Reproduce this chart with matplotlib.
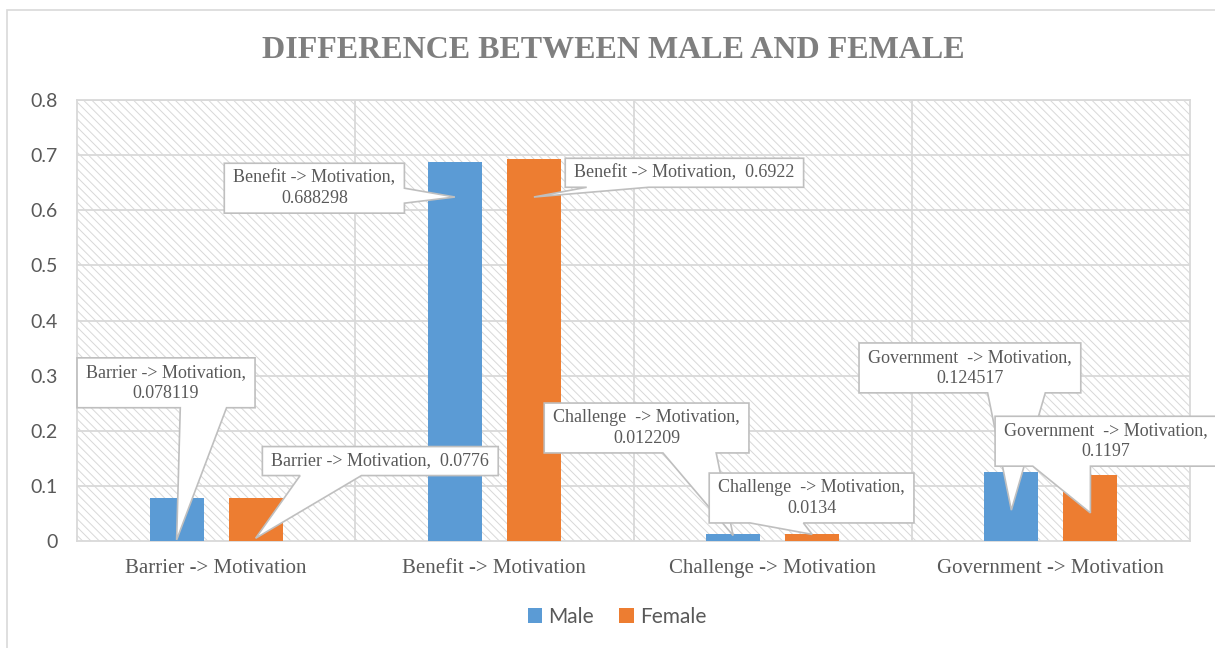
import matplotlib
matplotlib.use("Agg")
import matplotlib.pyplot as plt
from matplotlib.patches import Rectangle, Polygon
import numpy as np

# data
categories = ['Barrier -> Motivation', 'Benefit -> Motivation',
              'Challenge -> Motivation', 'Government -> Motivation']
male = [0.078119, 0.688298, 0.012209, 0.124517]
female = [0.0776, 0.6922, 0.0134, 0.1197]
male_labels = ['Barrier -> Motivation,\n0.078119', 'Benefit -> Motivation,\n0.688298',
               'Challenge  -> Motivation,\n0.012209', 'Government  -> Motivation,\n0.124517']
female_labels = ['Barrier -> Motivation,  0.0776', 'Benefit -> Motivation,  0.6922',
                 'Challenge  -> Motivation,\n0.0134', 'Government  -> Motivation,\n0.1197']

# callout layout: box centre (data coords), pointer tip height,
# edge the pointer leaves from and where along that edge its base sits
male_box = [(-0.180, 0.287), (0.353, 0.640), (1.547, 0.205), (2.709, 0.314)]
female_box = [(0.590, 0.145), (1.683, 0.668), (2.140, 0.078), (3.198, 0.181)]
male_tip = [0.002, 0.624, 0.010, 0.056]
female_tip = [0.005, 0.624, 0.012, 0.051]
male_edge = ['bottom', 'right', 'bottom', 'bottom']
female_edge = ['bottom', 'bottom', 'bottom', 'bottom']
male_base = [0.71, 0.65, 0.71, 0.71]
female_base = [0.29, 0.22, 0.33, 0.30]

blue = '#5B9BD5'
orange = '#ED7D31'
grid_c = '#d9d9d9'
text_c = '#595959'
box_c = '#bfbfbf'
serif = ['Liberation Serif', 'DejaVu Serif']
sans = ['Lato', 'DejaVu Sans']

plt.rcParams['hatch.linewidth'] = 0.7

fig = plt.figure(figsize=(12.15, 6.48), dpi=100)
ax = fig.add_axes([77 / 1215, 1 - 541 / 648, (1190 - 77) / 1215, (541 - 100) / 648])

# outer chart border
fig.patches.append(Rectangle((7 / 1215, -0.01), 1.0, 1 - 10 / 648 + 0.01,
                             transform=fig.transFigure, fill=False,
                             edgecolor=grid_c, lw=1.2, zorder=0))

# hatched plot area
ax.add_patch(Rectangle((0, 0), 1, 1, transform=ax.transAxes, fill=False,
                       hatch='\\' * 4, edgecolor='#d8d8d8', lw=0, zorder=0))

x = np.arange(len(categories))
bw = 0.194
off = 0.142
ax.bar(x - off, male, bw, color=blue, label='Male', zorder=3)
ax.bar(x + off, female, bw, color=orange, label='Female', zorder=3)

ax.set_xlim(-0.5, 3.5)
ax.set_ylim(0, 0.8)
ax.set_yticks(np.arange(0, 0.81, 0.1))
ax.set_yticklabels(['0', '0.1', '0.2', '0.3', '0.4', '0.5', '0.6', '0.7', '0.8'],
                   family=sans, fontsize=14, color=text_c)
ax.set_xticks(x)
ax.set_xticklabels(categories, family=serif, fontsize=15, color=text_c)
ax.tick_params(axis='y', length=0, pad=14)
ax.tick_params(axis='x', length=0, pad=13)

for y in np.arange(0.1, 0.81, 0.1):
    ax.axhline(y, color=grid_c, lw=1.3, zorder=1)
for xv in [0.5, 1.5, 2.5]:
    ax.axvline(xv, color=grid_c, lw=1.3, zorder=1)
for s in ax.spines.values():
    s.set_color(grid_c)
    s.set_linewidth(1.3)

fig.text(613 / 1215, 1 - 50 / 648, 'DIFFERENCE BETWEEN MALE AND FEMALE',
         ha='center', va='center', family=serif, fontsize=23, fontweight='bold',
         color='#7f7f7f')

leg = fig.legend(loc='center', bbox_to_anchor=(617 / 1215, 1 - 617 / 648), ncol=2,
                 frameon=False, prop={'family': sans, 'size': 15},
                 handlelength=0.7, handleheight=0.7, handletextpad=0.3,
                 columnspacing=1.2)
for t in leg.get_texts():
    t.set_color(text_c)

# callouts: text first, then a box+pointer outline built around its extent
callouts = []
for i in range(len(categories)):
    callouts.append((male_labels[i], male_box[i], (x[i] - off, male_tip[i]),
                     male_edge[i], male_base[i]))
    callouts.append((female_labels[i], female_box[i], (x[i] + off, female_tip[i]),
                     female_edge[i], female_base[i]))

texts = []
for lab, box, tip, edge, frac in callouts:
    t = ax.text(box[0], box[1], lab, ha='center', va='center', multialignment='center',
                family=serif, fontsize=13, color=text_c, linespacing=1.3,
                zorder=6, clip_on=False)
    texts.append((t, tip, edge, frac))

fig.canvas.draw()
renderer = fig.canvas.get_renderer()
padx, pady = 9, 6
for k, (t, tip, edge, frac) in enumerate(texts):
    bb = t.get_window_extent(renderer)
    x0, x1 = bb.x0 - padx, bb.x1 + padx
    y0, y1 = bb.y0 - pady, bb.y1 + pady
    tx, ty = ax.transData.transform(tip)
    if edge == 'bottom':
        w = 0.26 * (x1 - x0)
        px = x0 + frac * (x1 - x0)
        pts = [(x0, y0), (px - w / 2, y0), (tx, ty), (px + w / 2, y0),
               (x1, y0), (x1, y1), (x0, y1)]
    else:  # right
        w = 0.3 * (y1 - y0)
        py = y1 - frac * (y1 - y0)
        pts = [(x0, y0), (x1, y0), (x1, py - w / 2), (tx, ty), (x1, py + w / 2),
               (x1, y1), (x0, y1)]
    data_pts = ax.transData.inverted().transform(pts)
    ax.add_patch(Polygon(data_pts, closed=True, fc='white', ec=box_c, lw=1.2,
                         zorder=5 + 0.01 * k, clip_on=False, joinstyle='miter'))

fig.savefig('out.png', dpi=100)
